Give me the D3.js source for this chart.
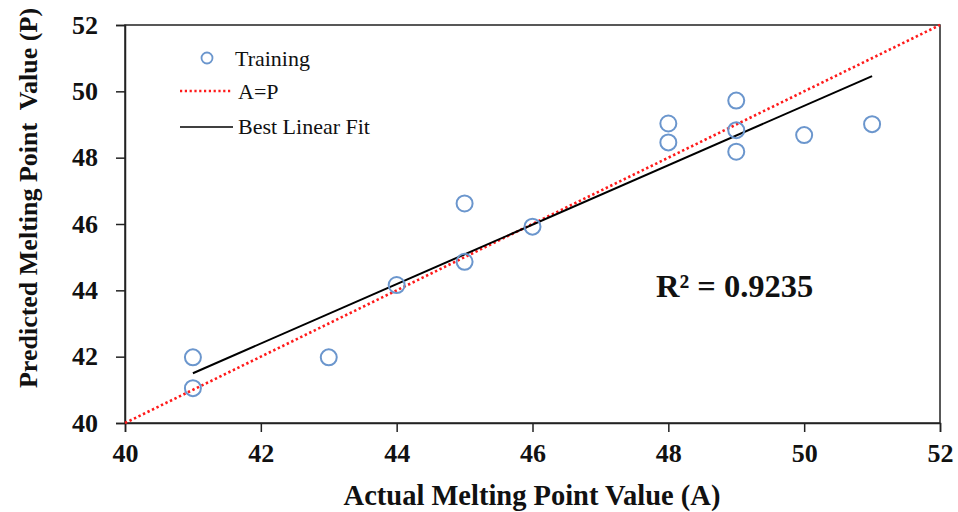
<!DOCTYPE html>
<html>
<head>
<meta charset="utf-8">
<script src="https://cdn.jsdelivr.net/npm/d3@7"></script>
<style>
  html, body { margin: 0; padding: 0; background: #fff; }
  svg { display: block; }
</style>
</head>
<body>
<svg id="chart" width="958" height="512"></svg>
<script>
// ---- data ----
const actual    = [41, 41, 43, 44, 45, 45, 46, 48, 48, 49, 49, 49, 50, 51];
const predicted = [41.98, 41.05, 41.98, 44.16, 46.62, 44.86, 45.92, 49.03, 48.46, 49.72, 48.83, 48.18, 48.68, 49.01];
const idealX = [40, 52];
const idealY = [40, 52];
const fitX = [41, 51];
const fitY = [41.5, 50.46];
const xTicks = [40, 42, 44, 46, 48, 50, 52];
const yTicks = [40, 42, 44, 46, 48, 50, 52];
const legendLabels = ["Training", "A=P", "Best Linear Fit"];
const r2Label = "R\u00B2 = 0.9235";
const xTitle = "Actual Melting Point Value (A)";
const yTitle = "Predicted Melting Point  Value (P)";

(function () {
// ---- layout ----
const svg = d3.select("#chart");
const pLeft = 125, pRight = 940, pTop = 25, pBottom = 423;
const x = d3.scaleLinear().domain([40, 52]).range([pLeft, pRight]);
const y = d3.scaleLinear().domain([40, 52]).range([pBottom, pTop]);
const serif = "'Liberation Serif', 'Times New Roman', serif";
const pointColor = "#6b96cd";

// frame
svg.append("rect")
  .attr("x", pLeft).attr("y", pTop)
  .attr("width", pRight - pLeft).attr("height", pBottom - pTop)
  .attr("fill", "none").attr("stroke", "#222").attr("stroke-width", 1.5);

// axes
const xAxis = svg.append("g").attr("transform", `translate(0,${pBottom})`)
  .call(d3.axisBottom(x).tickValues(xTicks).tickSize(9).tickPadding(12).tickFormat(d3.format("d")));
const yAxis = svg.append("g").attr("transform", `translate(${pLeft},0)`)
  .call(d3.axisLeft(y).tickValues(yTicks).tickSize(9).tickPadding(18).tickFormat(d3.format("d")));
[xAxis, yAxis].forEach(g => {
  g.select(".domain").attr("stroke", "#222").attr("stroke-width", 1.5);
  g.selectAll(".tick line").attr("stroke", "#222").attr("stroke-width", 1.5);
  g.selectAll(".tick text")
    .attr("fill", "#111")
    .style("font-family", serif)
    .style("font-weight", "bold")
    .style("font-size", "26px");
});

// ideal line A=P
const line = d3.line().x(d => x(d[0])).y(d => y(d[1]));
svg.append("path")
  .datum(d3.zip(idealX, idealY))
  .attr("d", line)
  .attr("fill", "none")
  .attr("stroke", "#ff1a1a")
  .attr("stroke-width", 2.6)
  .attr("stroke-dasharray", "2.4,2.6");

// best linear fit
svg.append("path")
  .datum(d3.zip(fitX, fitY))
  .attr("d", line)
  .attr("fill", "none")
  .attr("stroke", "#000")
  .attr("stroke-width", 2);

// points
svg.append("g").selectAll("circle")
  .data(d3.zip(actual, predicted))
  .join("circle")
  .attr("cx", d => x(d[0]))
  .attr("cy", d => y(d[1]))
  .attr("r", 8)
  .attr("fill", "none")
  .attr("stroke", pointColor)
  .attr("stroke-width", 2);

// legend
const lg = svg.append("g");
lg.append("circle").attr("cx", 207).attr("cy", 58).attr("r", 5.5)
  .attr("fill", "none").attr("stroke", pointColor).attr("stroke-width", 1.8);
lg.append("line").attr("x1", 180).attr("x2", 232).attr("y1", 91).attr("y2", 91)
  .attr("stroke", "#ff1a1a").attr("stroke-width", 2.4).attr("stroke-dasharray", "2.2,2.6");
lg.append("line").attr("x1", 180).attr("x2", 233).attr("y1", 127).attr("y2", 127)
  .attr("stroke", "#000").attr("stroke-width", 1.6);
const legendPos = [[235, 66], [238, 99], [238, 134]];
lg.selectAll("text")
  .data(legendLabels)
  .join("text")
  .attr("x", (d, i) => legendPos[i][0])
  .attr("y", (d, i) => legendPos[i][1])
  .attr("fill", "#111")
  .style("font-family", serif)
  .style("font-size", "22px")
  .text(d => d);

// R^2
svg.append("text")
  .attr("x", 656).attr("y", 297)
  .attr("fill", "#111")
  .style("font-family", serif)
  .style("font-weight", "bold")
  .style("font-size", "32.5px")
  .text(r2Label);

// axis titles
svg.append("text")
  .attr("x", 532).attr("y", 505)
  .attr("text-anchor", "middle")
  .attr("fill", "#111")
  .style("font-family", serif)
  .style("font-weight", "bold")
  .style("font-size", "28.5px")
  .text(xTitle);
svg.append("text")
  .attr("transform", "translate(37,198) rotate(-90)")
  .attr("text-anchor", "middle")
  .attr("fill", "#111")
  .style("font-family", serif)
  .style("font-weight", "bold")
  .style("font-size", "26px")
  .style("white-space", "pre")
  .text(yTitle);
})();
</script>
</body>
</html>
